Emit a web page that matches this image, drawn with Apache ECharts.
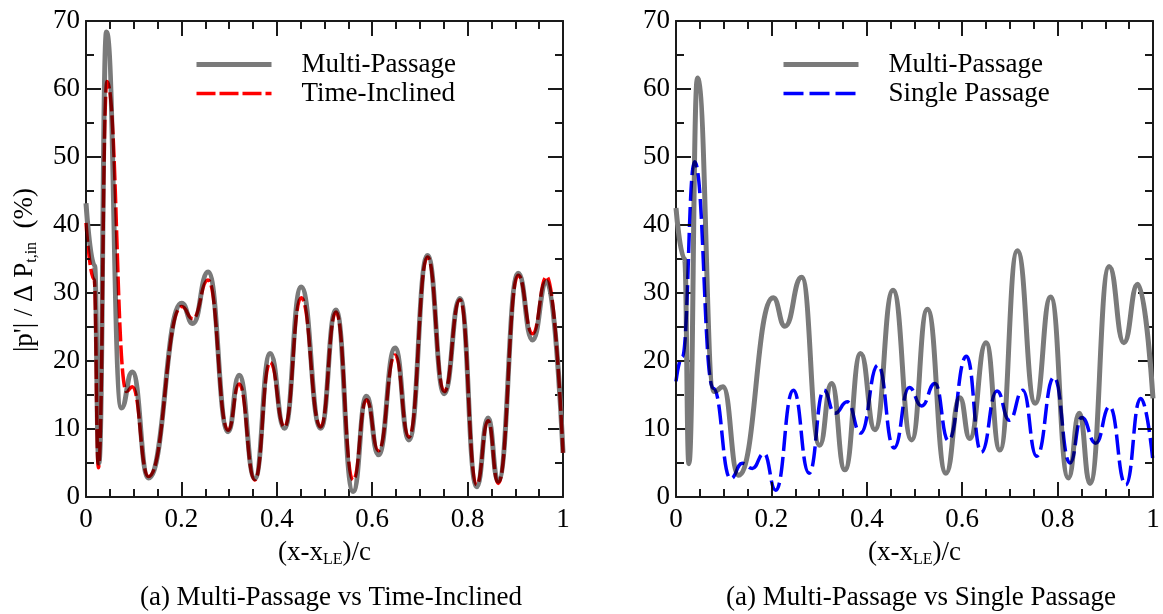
<!DOCTYPE html>
<html><head><meta charset="utf-8">
<script src="https://cdn.jsdelivr.net/npm/echarts@6/dist/echarts.min.js"></script>
<style>html,body{margin:0;padding:0;background:#fff}#c{width:1163px;height:614px}</style>
</head><body><div id="c"></div>
<script>
// ---- Data ----
const leftMultiX = [0, 0.018, 0.027, 0.043, 0.074, 0.097, 0.131, 0.2006, 0.224, 0.256, 0.298, 0.321, 0.354, 0.386, 0.416, 0.451, 0.492, 0.524, 0.560, 0.588, 0.613, 0.648, 0.677, 0.716, 0.751, 0.784, 0.819, 0.843, 0.864, 0.906, 0.936, 0.966, 1.0];
const leftMultiY = [43.2, 34.0, 5.0, 68.4, 13.1, 18.4, 2.8, 28.5, 25.5, 33.1, 9.6, 17.9, 2.7, 21.1, 10.1, 30.9, 10.1, 27.5, 0.8, 14.8, 6.2, 21.9, 8.4, 35.5, 15.2, 29.2, 1.5, 11.6, 2.3, 32.9, 23.1, 31.7, 6.5];

const leftTimeX = [0, 0.017, 0.026, 0.044, 0.085, 0.097, 0.131, 0.2006, 0.224, 0.256, 0.298, 0.321, 0.354, 0.386, 0.416, 0.451, 0.492, 0.524, 0.560, 0.588, 0.613, 0.648, 0.677, 0.716, 0.751, 0.784, 0.819, 0.843, 0.864, 0.906, 0.936, 0.966, 1.0];
const leftTimeY = [40.3, 32.0, 4.3, 61.1, 15.5, 16.2, 3.0, 28.0, 26.2, 31.9, 9.8, 16.6, 2.5, 19.8, 10.3, 29.3, 10.3, 27.2, 2.5, 14.3, 6.8, 20.9, 8.8, 35.3, 15.5, 29.0, 1.8, 11.2, 2.0, 32.6, 24.0, 32.4, 6.5];

const rightMultiX = [0, 0.018, 0.027, 0.045, 0.080, 0.0985, 0.131, 0.204, 0.2285, 0.2635, 0.301, 0.326, 0.354, 0.387, 0.417, 0.455, 0.494, 0.527, 0.566, 0.595, 0.616, 0.650, 0.679, 0.7156, 0.753, 0.7855, 0.8225, 0.8455, 0.868, 0.908, 0.939, 0.968, 1.0];
const rightMultiY = [42.5, 35.0, 4.9, 61.6, 15.5, 16.2, 3.2, 29.3, 25.1, 32.3, 7.6, 16.7, 4.0, 21.1, 9.9, 30.4, 8.4, 27.6, 3.5, 14.6, 8.6, 22.7, 6.9, 36.2, 13.8, 29.4, 2.8, 12.3, 2.0, 33.9, 22.7, 31.3, 14.5];

const rightSingleX = [0, 0.013, 0.039, 0.078, 0.1146, 0.139, 0.16, 0.1845, 0.209, 0.246, 0.279, 0.310, 0.333, 0.359, 0.387, 0.4235, 0.457, 0.489, 0.515, 0.543, 0.571, 0.609, 0.640, 0.673, 0.699, 0.727, 0.756, 0.7925, 0.826, 0.8505, 0.880, 0.909, 0.943, 0.974, 1.0];
const rightSingleY = [17.0, 20.6, 49.3, 16.0, 2.7, 4.95, 4.2, 6.4, 1.0, 15.7, 3.5, 15.7, 12.3, 14.0, 9.4, 19.4, 7.2, 16.1, 13.4, 16.7, 8.3, 20.7, 6.6, 15.6, 11.3, 15.7, 6.0, 17.6, 5.0, 11.7, 7.9, 13.3, 1.8, 14.5, 5.2];

const xTickValues = [0, 0.2, 0.4, 0.6, 0.8, 1];
const yTickValues = [0, 10, 20, 30, 40, 50, 60, 70];

const leftCaption = '(a) Multi-Passage vs Time-Inclined';
const rightCaption = '(a) Multi-Passage vs Single Passage';

// ---- Build ----
const zip = (xs, ys) => xs.map((x, i) => [x, ys[i]]);
const FONT = 'Liberation Serif';
const FS = 27;
const AXC = '#1a1a1a';
const lineSt = { color: AXC, width: 2 };
const tickRich = { t: { fontSize: FS, fontFamily: FONT, color: '#000' } };

function xAxes(gi) {
  const base = {
    type: 'value', gridIndex: gi, min: xTickValues[0], max: xTickValues[xTickValues.length - 1],
    interval: xTickValues[1] - xTickValues[0],
    axisLine: { show: true, onZero: false, lineStyle: lineSt },
    axisTick: { show: true, inside: true, length: 15, lineStyle: lineSt },
    minorTick: { show: true, splitNumber: 4, length: 8, lineStyle: lineSt },
    splitLine: { show: false }
  };
  return [
    Object.assign({}, base, {
      position: 'bottom',
      axisLabel: { fontSize: FS, fontFamily: FONT, color: '#000', margin: 9,
        formatter: v => '{t|' + (+v.toFixed(1)) + '}', rich: tickRich },
      name: '(x-x{sub|LE})/c', nameLocation: 'middle', nameGap: 40,
      nameTextStyle: { fontSize: FS, fontFamily: FONT, color: '#000', lineHeight: 30,
        rich: { sub: { fontSize: 16, fontFamily: FONT, color: '#000', lineHeight: 15, verticalAlign: 'bottom' } } }
    }),
    Object.assign({}, base, { position: 'top', axisLabel: { show: false } })
  ];
}
function yAxes(gi) {
  const base = {
    type: 'value', gridIndex: gi, min: yTickValues[0], max: yTickValues[yTickValues.length - 1],
    interval: yTickValues[1] - yTickValues[0],
    axisLine: { show: true, onZero: false, lineStyle: lineSt },
    axisTick: { show: true, inside: true, length: 15, lineStyle: lineSt },
    minorTick: { show: true, splitNumber: 2, length: 8, lineStyle: lineSt },
    splitLine: { show: false }
  };
  return [
    Object.assign({}, base, { position: 'left',
      axisLabel: { fontSize: FS, fontFamily: FONT, color: '#000', margin: 6,
        formatter: v => '{t|' + v + '}', rich: tickRich } }),
    Object.assign({}, base, { position: 'right', axisLabel: { show: false } })
  ];
}

const grayStyle = { color: '#7a7a7a', width: 5 };
function lineSeries(name, xi, yi, data, style, extra) {
  return Object.assign({
    type: 'line', name, xAxisIndex: xi, yAxisIndex: yi, data,
    symbol: 'none', smooth: 0.5, smoothMonotone: 'x', lineStyle: style,
    itemStyle: { color: style.color }, animation: false
  }, extra || {});
}

const legendText = { fontSize: FS, fontFamily: FONT, color: '#000', lineHeight: 29, padding: [0, 0, 0, 25] };
const legendCommon = {
  orient: 'vertical', top: 50, padding: 0, itemWidth: 75, itemHeight: 20, itemGap: 0,
  selectedMode: false, textStyle: legendText,
  itemStyle: { color: 'rgba(0,0,0,0)', borderWidth: 0, opacity: 0 },
  lineStyle: { width: 'inherit', type: 'inherit' }
};

const option = {
  backgroundColor: '#fff',
  animation: false,
  textStyle: { fontFamily: FONT },
  grid: [
    { left: 86, top: 21, width: 477, height: 476 },
    { left: 676, top: 21, width: 477, height: 476 }
  ],
  xAxis: [...xAxes(0), ...xAxes(1)],
  yAxis: [...yAxes(0), ...yAxes(1)],
  legend: [
    Object.assign({ data: ['Multi-Passage', 'Time-Inclined'], left: 194 }, legendCommon),
    Object.assign({ data: ['Multi-Passage', 'Single Passage'], left: 781 }, legendCommon)
  ],
  series: [
    lineSeries('Multi-Passage', 0, 0, zip(leftMultiX, leftMultiY), grayStyle, { z: 2 }),
    lineSeries('Time-Inclined', 0, 0, zip(leftTimeX, leftTimeY),
      { color: '#ff0000', width: 3.5, type: [19, 4] }, { z: 3, blendMode: 'multiply' }),
    lineSeries('Multi-Passage', 2, 2, zip(rightMultiX, rightMultiY), grayStyle, { z: 2 }),
    lineSeries('Single Passage', 2, 2, zip(rightSingleX, rightSingleY),
      { color: '#0000ff', width: 3.5, type: [20, 6] }, { z: 3, blendMode: 'multiply' })
  ],
  graphic: [
    { type: 'text', x: 25, y: 270, rotation: Math.PI / 2,
      style: { text: "|p'| / Δ P{sub|t,in}  (%)", fontSize: FS, fontFamily: FONT, lineHeight: 30, fill: '#000',
        align: 'center', verticalAlign: 'middle',
        rich: { sub: { fontSize: 16, fontFamily: FONT, lineHeight: 15, verticalAlign: 'bottom', fill: '#000' } } } },
    { type: 'text', x: 331, y: 598,
      style: { text: leftCaption, fontSize: FS, fontFamily: FONT, fill: '#000', align: 'center', verticalAlign: 'middle' } },
    { type: 'text', x: 921, y: 598,
      style: { text: rightCaption, fontSize: FS, fontFamily: FONT, fill: '#000', align: 'center', verticalAlign: 'middle' } }
  ]
};

const chart = echarts.init(document.getElementById('c'), null, { renderer: 'canvas' });
chart.setOption(option);
</script>
</body></html>
